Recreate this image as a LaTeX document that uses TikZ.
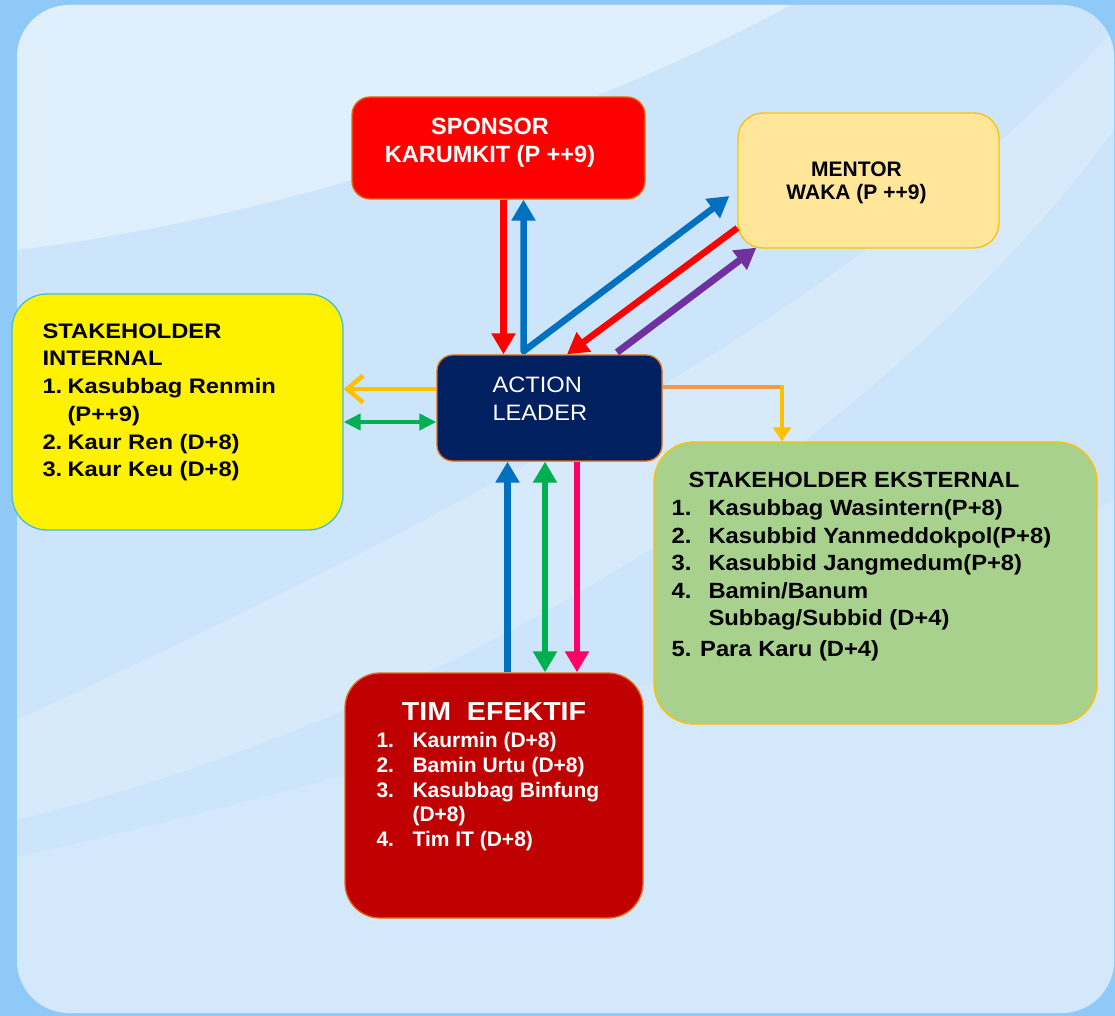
\documentclass[tikz,border=0pt]{standalone}
\usepackage{fontspec}
\setmainfont{Liberation Sans}
\newfontfamily\wideA{Liberation Sans}[FakeStretch=1.13]
\newfontfamily\wideB{Liberation Sans}[FakeStretch=1.08]
\newfontfamily\wideC{Liberation Sans}[FakeStretch=1.06]
\newfontfamily\wideD{Liberation Sans}[FakeStretch=1.10]
\usepackage{tikz}
\usetikzlibrary{arrows.meta, positioning, calc}
\definecolor{apOuter}{HTML}{8FC9F8}
\definecolor{apStrip}{HTML}{4DA7F4}
\definecolor{apPanel}{HTML}{CCE5FA}
\definecolor{apRed}{HTML}{FF0000}
\definecolor{apDark}{HTML}{C00000}
\definecolor{apNavy}{HTML}{002060}
\definecolor{apCream}{HTML}{FFE699}
\definecolor{apGold}{HTML}{FFC000}
\definecolor{apLime}{HTML}{A9D18E}
\definecolor{apTeal}{HTML}{45BCDD}
\definecolor{apRim}{HTML}{E46C0A}
\definecolor{apBlue}{HTML}{0070C0}
\definecolor{apPurple}{HTML}{7030A0}
\definecolor{apGreen}{HTML}{00B050}
\definecolor{apPeach}{HTML}{F79646}
\definecolor{apPink}{HTML}{FF0066}
\tikzset{
  ap-box/.style={rectangle, line width=1.3pt, inner sep=0pt},
  ap-text/.style={inner sep=0pt, align=left},
  ap-flow/.style={line width=6.5pt, -{Triangle[length=21pt,width=23pt]}},
  ap-flow-both/.style={line width=6.5pt,
    {Triangle[length=21pt,width=23pt]}-{Triangle[length=21pt,width=23pt]}},
  ap-side/.style={line width=4.5pt},
}

\begin{document}
\begin{tikzpicture}[x=1pt, y=-1pt]
  \useasboundingbox (0,0) rectangle (1115,1016);
  % background
  \fill[apOuter] (0,0) rectangle (1115,1016);
  \shade[top color=apOuter, middle color=apStrip, bottom color=apOuter]
    (0,60) rectangle (17,1016);
  \fill[apPanel, rounded corners=52pt] (17,5) rectangle (1114,1013);
  \begin{scope}
    \clip[rounded corners=52pt] (17,5) rectangle (1114,1013);
    \fill[white, opacity=0.4] (17,0) -- (17,250)
      .. controls (300,215) and (600,110) .. (800,0) -- cycle;
    \fill[white, opacity=0.22] (1114,30)
      .. controls (900,260) and (600,450) .. (17,720) -- (17,820)
      .. controls (500,700) and (900,420) .. (1114,130) -- cycle;
    \fill[white, opacity=0.15] (17,857)
      .. controls (400,770) and (800,650) .. (1114,500) -- (1114,1016) -- (17,1016) -- cycle;
  \end{scope}

  % boxes
  \node[ap-box, fill=apRed, draw=apRim, rounded corners=18pt,
        minimum width=293pt, minimum height=102pt] (spon) at (498.5,148) {};
  \node[ap-box, fill=apCream, draw=apGold, rounded corners=25pt,
        minimum width=261pt, minimum height=135pt] (ment) at (868.5,180.5) {};
  \node[ap-box, fill=yellow, draw=apTeal, rounded corners=35pt,
        minimum width=331pt, minimum height=236pt] (sint) at (177.5,412) {};
  \node[ap-box, fill=apNavy, draw=apRim, rounded corners=16pt,
        minimum width=225pt, minimum height=106pt] (act) at (549.5,408) {};
  \node[ap-box, fill=apLime, draw=apGold, rounded corners=40pt,
        minimum width=443pt, minimum height=282pt] (seks) at (875.5,583) {};
  \node[ap-box, fill=apDark, draw=apRim, rounded corners=35pt,
        minimum width=298pt, minimum height=245pt] (tim) at (494,795.5) {};

  % texts
  \node[ap-text, align=center, anchor=north, text=white,
        font=\bfseries\fontsize{23.5}{28}\selectfont,
        below=22pt of spon.north, xshift=-8.5pt] (spon-txt)
        {SPONSOR\\KARUMKIT (P ++9)};
  \node[ap-text, align=center, anchor=north,
        font=\bfseries\fontsize{21}{23}\selectfont,
        below=49pt of ment.north, xshift=-12pt] (ment-txt)
        {MENTOR\\WAKA (P ++9)};
  \node[ap-text, below right=30pt and 31pt of sint.north west,
        font=\wideA\bfseries\fontsize{21}{27.7}\selectfont] (sint-txt)
        {STAKEHOLDER\\INTERNAL\\
         \makebox[25pt][l]{1.}Kasubbag Renmin\\
         \hspace*{25pt}(P++9)\\
         \makebox[25pt][l]{2.}Kaur Ren (D+8)\\
         \makebox[25pt][l]{3.}Kaur Keu (D+8)};
  \node[ap-text, text=white, below right=22pt and 56pt of act.north west,
        font=\wideC\fontsize{22.3}{28}\selectfont] (act-txt)
        {ACTION\\LEADER};
  \node[ap-text, below right=31pt and 18pt of seks.north west,
        font=\wideB\bfseries\fontsize{22}{27.6}\selectfont] (seks-txt)
        {\hspace*{17pt}STAKEHOLDER EKSTERNAL\\
         \makebox[37pt][l]{1.}Kasubbag Wasintern(P+8)\\
         \makebox[37pt][l]{2.}Kasubbid Yanmeddokpol(P+8)\\
         \makebox[37pt][l]{3.}Kasubbid Jangmedum(P+8)\\
         \makebox[37pt][l]{4.}Bamin/Banum\\
         \hspace*{37pt}Subbag/Subbid (D+4)\\[2.5pt]
         5. Para Karu (D+4)};
  \node[ap-text, anchor=north, text=white,
        font=\wideD\bfseries\fontsize{26}{30}\selectfont,
        below=30pt of tim.north] (tim-ttl) {TIM~~EFEKTIF};
  \node[ap-text, text=white, below right=60pt and 32pt of tim.north west,
        font=\bfseries\fontsize{21}{24.7}\selectfont] (tim-lst)
        {\makebox[36pt][l]{1.}Kaurmin (D+8)\\
         \makebox[36pt][l]{2.}Bamin Urtu (D+8)\\
         \makebox[36pt][l]{3.}Kasubbag Binfung\\
         \hspace*{36pt}(D+8)\\
         \makebox[36pt][l]{4.}Tim IT (D+8)};

  % connectors
  \coordinate (blue-base) at ([xshift=-26pt, yshift=3pt]act.north);
  \draw[ap-flow, apRed] ([xshift=5pt]spon.south) -- ([xshift=-46pt]act.north);
  \draw[ap-flow-both, apBlue, line join=round]
    ([xshift=25pt]spon.south) -- (blue-base)
    -- ([shift={(-8pt,-15.5pt)}]ment.west);
  \draw[ap-flow, apRed] ([yshift=-47.5pt]ment.west) -- ([xshift=17.5pt]act.north);
  \draw[ap-flow, apPurple, line width=7pt]
    ([xshift=67.5pt, yshift=2pt]act.north) -- ([shift={(19pt,1pt)}]ment.south west);

  \coordinate (or-l) at ([yshift=19pt]act.west);
  \draw[ap-side, apGold, -{Straight Barb[length=16pt,width=27pt]}]
    (or-l) -- (or-l -| sint.east);
  \coordinate (gr-l) at ([yshift=-14pt]act.west);
  \draw[ap-side, apGreen, {Triangle[length=17pt,width=16pt]}-{Triangle[length=17pt,width=16pt]}]
    (gr-l -| sint.east) -- (gr-l);

  \coordinate (or-r) at ([yshift=21pt]act.east);
  \coordinate (seks-in) at ([xshift=-93.5pt]seks.north);
  \draw[ap-side, apPeach] (or-r) -- ([xshift=2.25pt]or-r -| seks-in);
  \draw[ap-side, apGold, -{Triangle[length=14pt,width=18pt]}]
    ([yshift=2.25pt]or-r -| seks-in) -- (seks-in);

  \draw[ap-flow, apBlue, line width=7pt] ([xshift=13.5pt]tim.north) -- ([xshift=-42pt]act.south);
  \draw[ap-flow-both, apGreen] ([xshift=51pt]tim.north) -- ([xshift=-4.5pt]act.south);
  \draw[ap-flow, apPink] ([xshift=27.5pt]act.south) -- ([xshift=83pt]tim.north);
\end{tikzpicture}
\end{document}
